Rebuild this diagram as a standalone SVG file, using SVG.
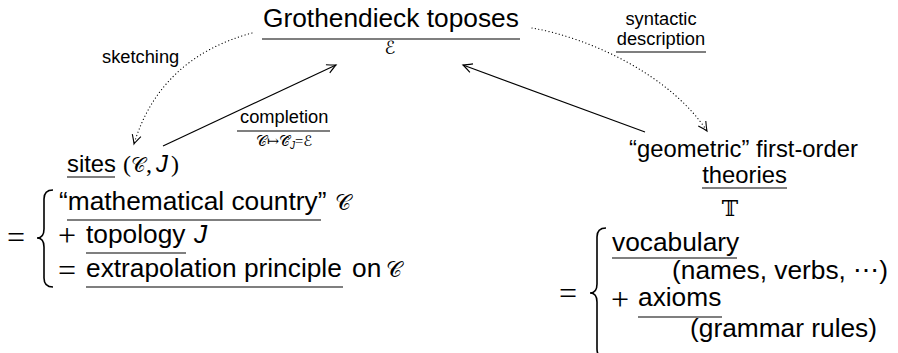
<svg xmlns="http://www.w3.org/2000/svg" width="898" height="353" viewBox="0 0 898 353">
<defs>
<style>
.t{font-family:"Liberation Sans",Arial,sans-serif;fill:#000}
.big{font-size:26.3px}
.mid{font-size:23.8px}
.lab{font-size:18.3px}
.m{font-family:"Liberation Serif","DejaVu Serif",serif}
.cal{font-family:"DejaVu Serif","DejaVu Sans",serif;font-style:normal}
.it{font-style:italic}
.ul{stroke:#000;stroke-width:1.2;fill:none}
.arr{stroke:#000;stroke-width:1.2;fill:none}
.dot{stroke:#000;stroke-width:1.2;fill:none;stroke-dasharray:0.1 3.4;stroke-linecap:round}
.brace{stroke:#000;stroke-width:1.6;fill:none}
</style>
<marker id="ah" viewBox="-10 -6 12 12" refX="0" refY="0" markerWidth="12" markerHeight="12" markerUnits="userSpaceOnUse" orient="auto">
<path d="M-9,-4.5 Q-3,-1.2 0,0 Q-3,1.2 -9,4.5" fill="none" stroke="#000" stroke-width="1.1"/>
</marker>
</defs>
<rect width="898" height="353" fill="#fff"/>

<g id="connectors">
<path class="dot" d="M252,33 Q160,58 134,144" marker-end="url(#ah)"/>
<line class="arr" x1="163" y1="146" x2="336" y2="65" marker-end="url(#ah)"/>
<line class="arr" x1="645" y1="132" x2="463" y2="65" marker-end="url(#ah)"/>
<path class="dot" d="M532,28 C590,38 670,75 707,131" marker-end="url(#ah)"/>
<text class="t lab" x="102" y="63">sketching</text>
<text class="t lab" x="661" y="25" text-anchor="middle">syntactic</text>
<text class="t lab" x="661" y="45" text-anchor="middle">description</text>
<line class="ul" x1="616" y1="52" x2="706" y2="52"/>
<text class="t lab" x="240" y="123">completion</text>
<line class="ul" x1="237" y1="131" x2="330" y2="131"/>
<text class="t" x="284" y="146" text-anchor="middle" font-size="14.5"><tspan class="cal">𝒞</tspan><tspan class="m">↦</tspan><tspan class="cal">𝒞̂</tspan><tspan class="it" font-size="10" dy="3">J</tspan><tspan class="m" dy="-3">=</tspan><tspan class="cal">ℰ</tspan></text>
</g>

<g id="toposes">
<text class="t big" x="263" y="27">Grothendieck toposes</text>
<line class="ul" x1="262" y1="39" x2="520" y2="39"/>
<text class="t cal" x="390" y="54" text-anchor="middle" font-size="18">ℰ</text>
</g>

<g id="sites">
<text class="t mid" x="67" y="172">sites</text>
<line class="ul" x1="67" y1="177" x2="115" y2="177"/>
<text class="t m" x="123" y="172" font-size="24">(</text>
<text class="t cal" x="131" y="172" font-size="20">𝒞</text>
<text class="t m" x="146" y="172" font-size="24">,</text>
<text class="t it mid" x="156" y="172">J</text>
<text class="t m" x="171" y="172" font-size="24">)</text>
</g>

<g id="sites-definition">
<text class="t m" x="7" y="248" font-size="32">=</text>
<path class="brace" d="M53,190 Q44,190 44,199 L44,229 Q44,238 37,238 Q44,238 44,247 L44,278 Q44,287 53,287"/>
<text class="t big" x="59" y="210">“mathematical country”</text>
<line class="ul" x1="67" y1="220" x2="321" y2="220"/>
<text class="t cal" x="335" y="210" font-size="22">𝒞</text>
<text class="t m" x="58" y="246" font-size="32">+</text>
<text class="t big" x="86" y="243">topology</text>
<line class="ul" x1="86" y1="253" x2="186" y2="253"/>
<text class="t big it" x="194" y="243">J</text>
<text class="t m" x="58" y="281" font-size="32">=</text>
<text class="t big" x="86" y="277">extrapolation principle</text>
<line class="ul" x1="86" y1="287" x2="343" y2="287"/>
<text class="t big" x="352" y="277">on</text>
<text class="t cal" x="386" y="277" font-size="22">𝒞</text>
</g>

<g id="theories">
<text class="t mid" x="743.5" y="157" text-anchor="middle">“geometric” first-order</text>
<text class="t mid" x="744.5" y="183" text-anchor="middle">theories</text>
<line class="ul" x1="702" y1="188" x2="787" y2="188"/>
<text class="t cal" x="730" y="216" text-anchor="middle" font-size="22">𝕋</text>
</g>

<g id="theories-definition">
<text class="t m" x="559" y="304" font-size="32">=</text>
<path class="brace" d="M606,228 Q597,228 597,237 L597,284 Q597,293 590,293 Q597,293 597,302 L597,349 Q597,358 606,358"/>
<text class="t big" x="612" y="251">vocabulary</text>
<line class="ul" x1="612" y1="258" x2="737" y2="258"/>
<text class="t big" x="672" y="279">(names, verbs, <tspan class="m">⋯</tspan>)</text>
<text class="t m" x="611" y="310" font-size="32">+</text>
<text class="t big" x="638" y="306">axioms</text>
<line class="ul" x1="638" y1="317" x2="722" y2="317"/>
<text class="t big" x="690" y="337">(grammar rules)</text>
</g>
</svg>
